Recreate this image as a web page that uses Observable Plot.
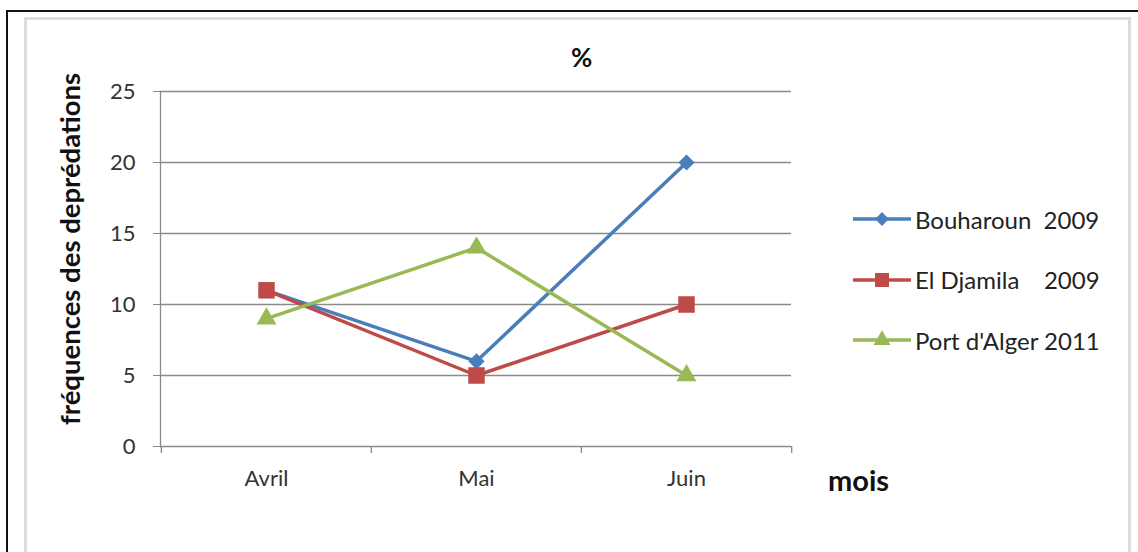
<!DOCTYPE html>
<html>
<head>
<meta charset="utf-8">
<script src="https://cdn.jsdelivr.net/npm/d3@7"></script>
<script src="https://cdn.jsdelivr.net/npm/@observablehq/plot@0.6"></script>
<style>
  html, body { margin: 0; padding: 0; background: #fff; }
  #wrap { position: relative; width: 1138px; height: 552px; overflow: hidden; font-family: Lato, "Open Sans", sans-serif; }
  #outer { position: absolute; left: 6px; top: 10px; width: 1140px; height: 560px; border: 2px solid #111; box-sizing: border-box; }
  #inner { position: absolute; left: 24px; top: 17px; width: 1107px; height: 560px; border: 3px solid #dcdcdc; box-sizing: border-box; }
  #chart { position: absolute; left: 0; top: 0; }
  .lbl { position: absolute; color: #111; font-weight: bold; white-space: nowrap; line-height: 1; }
  #legend { position: absolute; left: 853px; top: 189px; }
  .item { display: flex; align-items: center; height: 60.5px; font-size: 24px; color: #222; }
  .item svg { margin-right: 4px; }
</style>
</head>
<body>
<div id="wrap">
  <div id="outer"></div>
  <div id="inner"></div>
  <div id="chart"></div>
  <div class="lbl" id="title" style="left:571px; top:44px; font-size:26px;">%</div>
  <div class="lbl" id="xlab" style="left:828px; top:465px; font-size:29px;">mois</div>
  <div id="legend"></div>
</div>
<script>
const months = ["Avril", "Mai", "Juin"];
const seriesNames = ["Bouharoun  2009", "El Djamila    2009", "Port d'Alger 2011"];
const bouharoun = [11, 6, 20];
const elDjamila = [11, 5, 10];
const portAlger = [9, 14, 5];
const yTicks = [0, 5, 10, 15, 20, 25];
const colors = ["#4a7ebb", "#be4b48", "#98b954"];
const symbols = ["diamond2", "square", "triangle"];
const radii = [7.3, 9.3, 7.4];

const allValues = [bouharoun, elDjamila, portAlger];
const data = [];
allValues.forEach((vals, s) => vals.forEach((v, i) => data.push({series: seriesNames[s], month: months[i], value: v})));

const W = 1138, H = 552;
const mL = 160, mR = 347, mT = 91, mB = 106;
const step = (W - mL - mR) / months.length;
const boundaries = months.map(m => ({month: m, dx: -step / 2}));
boundaries.push({month: months[months.length - 1], dx: step / 2});

const gray = "#8a8a8a";
const marks = [
  Plot.gridY(yTicks, {stroke: gray, strokeOpacity: 1, strokeWidth: 1.3}),
  Plot.axisY(yTicks, {tickSize: 7, tickPadding: 18, fontSize: 22, stroke: gray, fill: "#333",
    label: "fréquences des deprédations", labelAnchor: "center", labelOffset: 100, labelArrow: "none"}),
  Plot.frame({anchor: "left", stroke: gray, strokeWidth: 1.3}),
  Plot.axisX({tickSize: 0, tickPadding: 24, fontSize: 22, fill: "#333", label: null}),
  ...boundaries.map(b => Plot.ruleX([b], {x: "month", dx: b.dx, y1: 0, y2: 0, insetBottom: -7, stroke: gray, strokeWidth: 1.3}))
];
seriesNames.forEach((name, s) => {
  const d = data.filter(r => r.series === name);
  marks.push(Plot.line(d, {x: "month", y: "value", stroke: colors[s], strokeWidth: 3.5}));
});
seriesNames.forEach((name, s) => {
  const d = data.filter(r => r.series === name);
  marks.push(Plot.dot(d, {x: "month", y: "value", symbol: () => symbols[s], fill: colors[s], stroke: "none", r: radii[s]}));
});

const plot = Plot.plot({
  width: W, height: H,
  marginLeft: mL, marginRight: mR, marginTop: mT, marginBottom: mB,
  style: {fontFamily: "Lato, 'Open Sans', sans-serif", background: "transparent", overflow: "visible"},
  x: {type: "point", domain: months, padding: 0.5},
  y: {domain: [0, 25]},
  symbol: {type: "identity"},
  marks
});
plot.querySelectorAll("g[aria-label='y-axis label'] text").forEach(t => {
  t.setAttribute("font-weight", "bold"); t.setAttribute("font-size", "27.5"); t.setAttribute("fill", "#111");
  t.setAttribute("dx", "20");
});
document.getElementById("chart").appendChild(plot);

// legend
const legend = d3.select("#legend");
seriesNames.forEach((name, s) => {
  const item = legend.append("div").attr("class", "item");
  const svg = item.append("svg").attr("width", 58).attr("height", 20);
  svg.append("line").attr("x1", 0).attr("x2", 58).attr("y1", 10).attr("y2", 10)
    .attr("stroke", colors[s]).attr("stroke-width", 3.5);
  const sym = {diamond2: d3.symbolDiamond2, square: d3.symbolSquare, triangle: d3.symbolTriangle}[symbols[s]];
  svg.append("path").attr("transform", "translate(29,10)")
    .attr("d", d3.symbol(sym, Math.PI * (radii[s] * 0.85) ** 2)()).attr("fill", colors[s]);
  item.append("span").text(name).style("white-space", "pre");
});
</script>
</body>
</html>
